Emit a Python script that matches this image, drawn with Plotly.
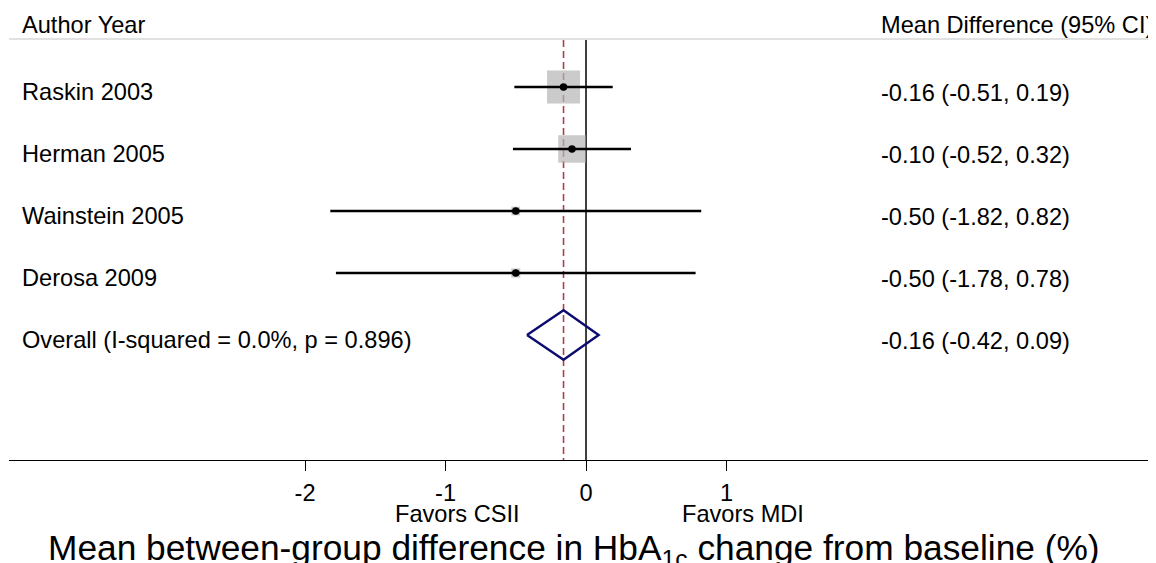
import plotly.graph_objects as go

# ---- data ----
studies = ["Raskin 2003", "Herman 2005", "Wainstein 2005", "Derosa 2009"]
est = [-0.16, -0.10, -0.50, -0.50]
lo = [-0.51, -0.52, -1.82, -1.78]
hi = [0.19, 0.32, 0.82, 0.78]
weights = [54.3, 37.7, 3.8, 4.1]
overall_label = "Overall (I-squared = 0.0%, p = 0.896)"
overall_est, overall_lo, overall_hi = -0.16, -0.42, 0.09
tick_vals = [-2, -1, 0, 1]
tick_text = ["-2", "-1", "0", "1"]
header_left = "Author Year"
header_right = "Mean Difference (95% CI)"
favors_left = "Favors CSII"
favors_right = "Favors MDI"
x_title = "Mean between-group difference in HbA<sub>1c</sub> change from baseline (%)"

FONT = "Liberation Sans, Arial, sans-serif"
FS = 23.6
rows = list(range(1, len(studies) + 1))
overall_row = len(studies) + 1

fig = go.Figure()

# weight boxes
fig.add_trace(go.Scatter(
    x=est, y=rows, mode="markers",
    marker=dict(symbol="square", size=[4.48 * w ** 0.5 for w in weights],
                color="#b5b5b5", line=dict(width=0)),
    hoverinfo="skip", showlegend=False))

# CI lines
cx, cy = [], []
for l, h, r in zip(lo, hi, rows):
    cx += [l, h, None]
    cy += [r, r, None]
fig.add_trace(go.Scatter(x=cx, y=cy, mode="lines",
                         line=dict(color="black", width=2.6),
                         hoverinfo="skip", showlegend=False))

# point estimates
fig.add_trace(go.Scatter(x=est, y=rows, mode="markers",
                         marker=dict(symbol="circle", size=7.5, color="black"),
                         hoverinfo="skip", showlegend=False))

# overall diamond
dh = 0.40
fig.add_trace(go.Scatter(
    x=[overall_lo, overall_est, overall_hi, overall_est, overall_lo],
    y=[overall_row, overall_row - dh, overall_row, overall_row + dh, overall_row],
    mode="lines", line=dict(color="#0c0c70", width=2.4),
    hoverinfo="skip", showlegend=False))

y_top_lines = 0.242
y_bottom = 7.016
y_top = -0.2742

fig.add_shape(type="line", xref="x", yref="y", x0=0, x1=0, y0=y_top_lines, y1=y_bottom,
              line=dict(color="black", width=1.5), layer="below")
fig.add_shape(type="line", xref="x", yref="y", x0=overall_est, x1=overall_est,
              y0=y_top_lines, y1=y_bottom,
              line=dict(color="#a8424e", width=1.6, dash="7px,4px"), layer="below")
fig.add_shape(type="line", xref="paper", yref="y", x0=0, x1=1, y0=0.226, y1=0.226,
              line=dict(color="#c4c4c4", width=1.2), layer="below")

x_left_text = -4.028
x_right_text = 2.086
ann = []
ann.append(dict(x=x_left_text, y=0.0, text=header_left, xanchor="left", yanchor="middle"))
ann.append(dict(x=x_right_text, y=0.0, text=header_right, xanchor="left", yanchor="middle"))
all_labels = studies + [overall_label]
all_est = est + [overall_est]
all_lo = lo + [overall_lo]
all_hi = hi + [overall_hi]
for i, (lab, e, l, h) in enumerate(zip(all_labels, all_est, all_lo, all_hi)):
    r = i + 1
    ann.append(dict(x=x_left_text, y=r + 0.08, text=lab, xanchor="left", yanchor="middle"))
    ann.append(dict(x=x_right_text, y=r + 0.1, text=f"{e:.2f} ({l:.2f}, {h:.2f})",
                    xanchor="left", yanchor="middle"))
for a in ann:
    a.update(xref="x", yref="y", showarrow=False, font=dict(family=FONT, size=FS, color="black"))

ann.append(dict(x=-0.913, y=-0.1188, xref="x", yref="paper", text=favors_left,
                showarrow=False, xanchor="center", yanchor="middle",
                font=dict(family=FONT, size=FS, color="black")))
ann.append(dict(x=1.114, y=-0.1188, xref="x", yref="paper", text=favors_right,
                showarrow=False, xanchor="center", yanchor="middle",
                font=dict(family=FONT, size=FS, color="black")))
ann.append(dict(x=-0.089, y=-0.199, xref="x", yref="paper", text=x_title,
                showarrow=False, xanchor="center", yanchor="middle",
                font=dict(family=FONT, size=35.3, color="black")))

# page body has an 8px margin, so the figure is 8px smaller and shifted accordingly
fig.update_layout(
    width=1148, height=555,
    margin=dict(l=1, r=0, t=0, b=103),
    paper_bgcolor="white", plot_bgcolor="white",
    annotations=ann,
    showlegend=False,
    xaxis=dict(range=[-4.1068, 4.0569], showgrid=False, zeroline=False,
               showline=True, linecolor="black", linewidth=1.3,
               ticks="outside", ticklen=10, tickwidth=1.3, tickcolor="black",
               tickvals=tick_vals, ticktext=tick_text, ticklabelstandoff=2,
               tickfont=dict(family=FONT, size=FS, color="black"), fixedrange=True),
    yaxis=dict(range=[y_bottom, y_top], showgrid=False, zeroline=False,
               showline=False, showticklabels=False, ticks="", fixedrange=True),
)

fig.write_html("out.html")
